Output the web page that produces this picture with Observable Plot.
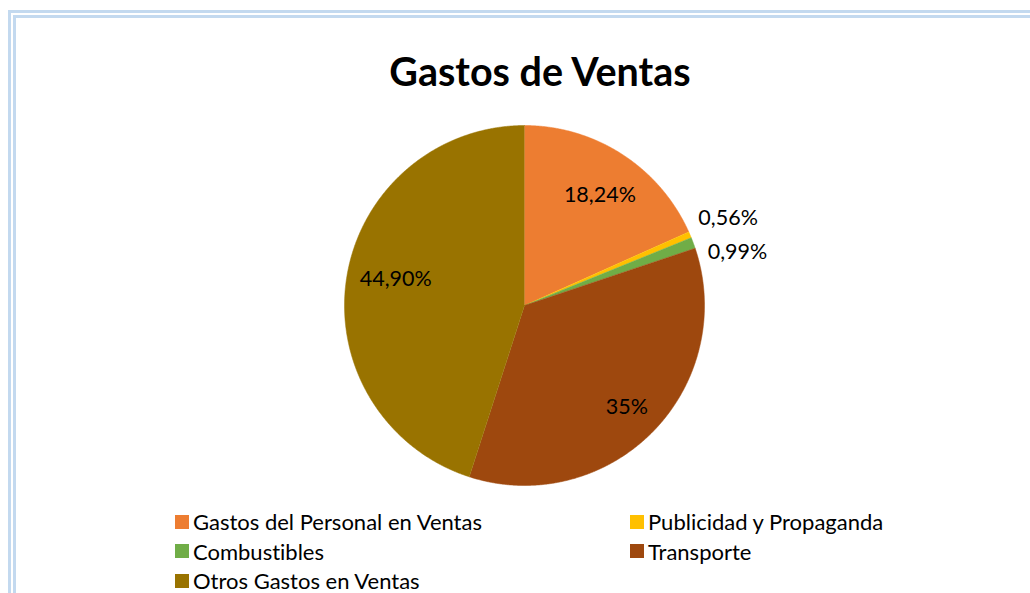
<!DOCTYPE html>
<html><head><meta charset="utf-8">
<script src="https://cdn.jsdelivr.net/npm/d3@7"></script>
<script src="https://cdn.jsdelivr.net/npm/@observablehq/plot@0.6"></script>
<style>
html,body{margin:0;padding:0}
body{width:1030px;height:593px;overflow:hidden;background:#fff;position:relative;font-family:Lato,"Open Sans",sans-serif;color:#000;font-variant-ligatures:none;font-feature-settings:"liga" 0,"clig" 0}
#frame{position:absolute;left:8px;top:10px;width:1200px;height:800px;border:8px double #C3D9EF;box-sizing:border-box}
#title{position:absolute;left:0;width:1080px;top:47px;text-align:center;font-weight:bold;font-size:39.5px;line-height:48px}
#chart{position:absolute;left:0;top:110px}
#legend{position:absolute;left:175px;top:507px;display:grid;grid-template-columns:455px auto}
.sw{display:flex;align-items:center;height:29.5px;font-size:22px;white-space:nowrap}
.sq{width:14px;height:14px;margin-right:4px;flex:none}
</style>
</head><body>
<div id="frame"></div>
<div id="title">Gastos de Ventas</div>
<div id="chart"></div>
<div id="legend"></div>
<script>
const categories = ["Gastos del Personal en Ventas","Publicidad y Propaganda","Combustibles","Transporte","Otros Gastos en Ventas"];
const values = [18.24, 0.56, 0.99, 35, 44.90];
const labels = ["18,24%","0,56%","0,99%","35%","44,90%"];
const colors = ["#ED7D31","#FFC000","#70AD47","#9E480E","#997300"];

// label placement (styling): radial factor and pixel nudges
const labelRadius = [0.75, 1.23, 1.22, 0.8, 0.73];
const labelDx = [2, 0, 7, 0, 1];
const labelDy = [3, 0, 23, 0, -6];

const data = categories.map((c, i) => ({slice: c, value: values[i], label: labels[i], i}));
const arcs = d3.pie().sort(null).value(d => d.value)(data);

const rows = [];
for (const a of arcs) {
  const n = Math.max(4, Math.ceil((a.endAngle - a.startAngle) / 0.005));
  rows.push({slice: a.data.slice, x: 0, y: 0});
  for (let k = 0; k <= n; k++) {
    const t = a.startAngle + (a.endAngle - a.startAngle) * k / n;
    rows.push({slice: a.data.slice, x: Math.sin(t), y: Math.cos(t)});
  }
}
const labelRows = arcs.map(a => {
  const m = (a.startAngle + a.endAngle) / 2, r = labelRadius[a.data.i];
  return {x: r * Math.sin(m), y: r * Math.cos(m), text: a.data.label, dx: labelDx[a.data.i], dy: labelDy[a.data.i]};
});

const chart = Plot.plot({
  width: 1030, height: 390, margin: 0,
  style: {background: "transparent", overflow: "visible"},
  x: {domain: [-1, 1], range: [344, 704], axis: null},
  y: {domain: [-1, 1], range: [375, 15], axis: null},
  color: {domain: categories, range: colors},
  marks: [
    Plot.line(rows, {x: "x", y: "y", z: "slice", fill: "slice", stroke: "slice", strokeWidth: 0.5, curve: "linear"}),
    ...labelRows.map(l => Plot.text([l], {x: "x", y: "y", text: "text", dx: l.dx, dy: l.dy, fontSize: 21.5, fontFamily: "Lato", fill: "#000", textAnchor: "middle"}))
  ]
});
document.getElementById("chart").appendChild(chart);

const legend = document.getElementById("legend");
categories.forEach((c, i) => {
  const d = document.createElement("div");
  d.className = "sw";
  d.innerHTML = `<span class="sq" style="background:${colors[i]}"></span><span>${c}</span>`;
  legend.appendChild(d);
});
</script>
</body></html>
